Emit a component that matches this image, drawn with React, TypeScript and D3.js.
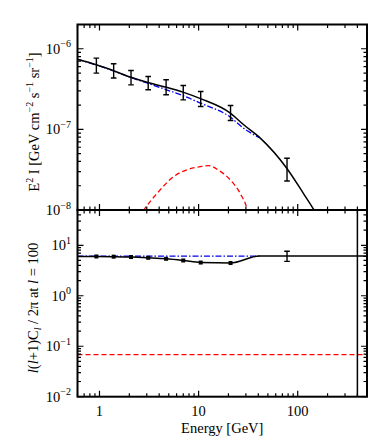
import React from 'react'
import * as d3 from 'd3'

// energies of the measured bins [GeV]
const binEnergy = [0.93, 1.39, 2.08, 3.1, 4.7, 7.0, 10.5, 21, 78]
// E^2 I with its error range
const intensity = [6.18e-7, 5.3e-7, 4.38e-7, 3.75e-7, 3.33e-7, 2.86e-7, 2.38e-7, 1.6e-7, 3.17e-8]
const intensityLo = [4.99e-7, 4.33e-7, 3.57e-7, 3.1e-7, 2.69e-7, 2.32e-7, 1.92e-7, 1.29e-7, 2.29e-8]
const intensityHi = [7.66e-7, 6.52e-7, 5.37e-7, 4.53e-7, 4.12e-7, 3.5e-7, 2.95e-7, 1.98e-7, 4.38e-8]

// total model (black)
const totalE = [0.6, 0.93, 1.39, 2.08, 3.14, 4.73, 7.06, 10.6, 20.9, 28.5, 41.9, 77.5, 114, 146, 200]
const totalI = [7.4e-7, 6.32e-7, 5.33e-7, 4.43e-7, 3.78e-7, 3.33e-7, 2.88e-7, 2.39e-7, 1.59e-7, 1.14e-7, 7.8e-8, 3.3e-8, 1.61e-8, 1.0e-8, 5e-9]
// smooth component (blue dash-dot)
const smoothE = [0.6, 0.93, 1.39, 2.08, 3.14, 4.73, 7.06, 10.6, 20.9, 28.5, 41]
const smoothI = [7.4e-7, 6.3e-7, 5.3e-7, 4.4e-7, 3.7e-7, 3.1e-7, 2.6e-7, 2.1e-7, 1.42e-7, 1.03e-7, 7.9e-8]
// bump component (red dashed)
const bumpE = [2.5, 2.8, 3.8, 5.6, 7.6, 10.4, 12.6, 16, 20.9, 26.3, 31, 33]
const bumpI = [8e-9, 1e-8, 1.6e-8, 2.6e-8, 3.15e-8, 3.45e-8, 3.55e-8, 3.1e-8, 2.36e-8, 1.6e-8, 1e-8, 7e-9]

// anisotropy l(l+1)C_l/2pi at l=100
const aniso = [6.0, 5.95, 5.85, 5.65, 5.4, 5.0, 4.55, 4.45]
const anisoLineE = [0.6, 0.93, 1.39, 2.08, 3.1, 4.7, 7.0, 10.5, 21, 41, 500]
const anisoLine = [6.0, 6.0, 5.95, 5.85, 5.65, 5.4, 5.0, 4.55, 4.45, 6.1, 6.1]
const anisoHighE = 78
const anisoHigh = [4.8, 6.05, 7.6] // lo, center, hi
const smoothAnisoE = [0.6, 41]
const smoothAniso = [6.1, 6.1]
const bumpAnisoE = [0.6, 500]
const bumpAniso = [0.068, 0.068]
const cutEnergy = 400

const topDecades = [-8, -7, -6]
const botDecades = [-2, -1, 0, 1]
const xMajors = [1, 10, 100]
const xMajorLabels = ['1', '10', '100']

const FONT = 'Liberation Serif'

export default function App() {
  const width = 390
  const height = 446
  const left = 77.5
  const right = 367
  const topY0 = 24.5
  const midY = 210
  const botY1 = 396.7

  const x = d3.scaleLog().domain([0.6, 500]).range([left, right])
  const yTop = d3.scaleLog().domain([1e-8, 2e-6]).range([midY, topY0])
  const yBot = d3.scaleLog().domain([0.01, 50]).range([botY1, midY])

  const lineTop = d3.line<[number, number]>()
    .x(d => x(d[0]))
    .y(d => yTop(d[1]))
    .curve(d3.curveMonotoneX)
  const lineBot = d3.line<[number, number]>()
    .x(d => x(d[0]))
    .y(d => yBot(d[1]))
    .curve(d3.curveMonotoneX)

  const zip = (a: number[], b: number[]) => a.map((v, i) => [v, b[i]] as [number, number])

  // major and minor ticks of a log scale
  const logTicks = (lo: number, hi: number) => {
    const out: { v: number; major: boolean }[] = []
    for (let e = Math.floor(Math.log10(lo)); e <= Math.ceil(Math.log10(hi)); e++) {
      for (let m = 1; m < 10; m++) {
        const v = m * Math.pow(10, e)
        if (v >= lo * 0.9999 && v <= hi * 1.0001) out.push({ v, major: m === 1 })
      }
    }
    return out
  }
  const xTicks = logTicks(0.6, 500)
  const yTopTicks = logTicks(1e-8, 2e-6)
  const yBotTicks = logTicks(0.01, 50)

  const major = 6
  const minor = 3.5

  const tickPaths: string[] = []
  xTicks.forEach(t => {
    const px = x(t.v)
    const l = t.major ? major : minor
    tickPaths.push(`M${px},${topY0}v${l}`)
    tickPaths.push(`M${px},${midY}v${-l}`)
    tickPaths.push(`M${px},${midY}v${l}`)
    tickPaths.push(`M${px},${botY1}v${-l}`)
  })
  yTopTicks.forEach(t => {
    const py = yTop(t.v)
    const l = t.major ? major : minor
    tickPaths.push(`M${left},${py}h${l}`)
    tickPaths.push(`M${right},${py}h${-l}`)
  })
  yBotTicks.forEach(t => {
    const py = yBot(t.v)
    const l = t.major ? major : minor
    tickPaths.push(`M${left},${py}h${l}`)
    tickPaths.push(`M${right},${py}h${-l}`)
  })

  const cap = 2.8
  const fs = 14.5
  const sup = 10

  return (
    <svg width={width} height={height} style={{ position: 'absolute', left: 0, top: 0, background: '#fff' }}>
      <defs>
        <clipPath id="clipTop"><rect x={left} y={topY0} width={right - left} height={midY - topY0} /></clipPath>
        <clipPath id="clipBot"><rect x={left} y={midY} width={right - left} height={botY1 - midY} /></clipPath>
      </defs>

      {/* top panel curves */}
      <g clipPath="url(#clipTop)" fill="none">
        <path d={lineTop(zip(bumpE, bumpI)) || ''} stroke="#ff0000" strokeWidth={1.3} strokeDasharray="5,3" />
        <path d={lineTop(zip(smoothE, smoothI)) || ''} stroke="#0000ee" strokeWidth={1.3} strokeDasharray="6,2,1.5,2" />
        <path d={lineTop(zip(totalE, totalI)) || ''} stroke="#000" strokeWidth={1.5} />
        {binEnergy.map((e, i) => (
          <g key={i} stroke="#000" strokeWidth={1.4}>
            <line x1={x(e)} x2={x(e)} y1={yTop(intensityLo[i])} y2={yTop(intensityHi[i])} />
            <line x1={x(e) - cap} x2={x(e) + cap} y1={yTop(intensityLo[i])} y2={yTop(intensityLo[i])} />
            <line x1={x(e) - cap} x2={x(e) + cap} y1={yTop(intensityHi[i])} y2={yTop(intensityHi[i])} />
          </g>
        ))}
      </g>

      {/* bottom panel curves */}
      <g clipPath="url(#clipBot)" fill="none">
        <path d={lineBot(zip(bumpAnisoE, bumpAniso)) || ''} stroke="#ff0000" strokeWidth={1.3} strokeDasharray="5,3" />
        <path d={lineBot(zip(smoothAnisoE, smoothAniso)) || ''} stroke="#0000ee" strokeWidth={1.3} strokeDasharray="6,2,1.5,2" />
        <path d={lineBot(zip(anisoLineE, anisoLine)) || ''} stroke="#000" strokeWidth={1.5} />
        {aniso.map((v, i) => (
          <rect key={i} x={x(binEnergy[i]) - 2} y={yBot(v) - 2} width={4} height={4} fill="#000" />
        ))}
        <g stroke="#000" strokeWidth={1.4}>
          <line x1={x(anisoHighE)} x2={x(anisoHighE)} y1={yBot(anisoHigh[0])} y2={yBot(anisoHigh[2])} />
          <line x1={x(anisoHighE) - cap} x2={x(anisoHighE) + cap} y1={yBot(anisoHigh[0])} y2={yBot(anisoHigh[0])} />
          <line x1={x(anisoHighE) - cap} x2={x(anisoHighE) + cap} y1={yBot(anisoHigh[2])} y2={yBot(anisoHigh[2])} />
        </g>
        <line x1={x(cutEnergy)} x2={x(cutEnergy)} y1={midY} y2={botY1} stroke="#000" strokeWidth={1.5} />
      </g>

      {/* ticks and frames */}
      <path d={tickPaths.join('')} stroke="#000" strokeWidth={1.2} fill="none" />
      <rect x={left} y={topY0} width={right - left} height={midY - topY0} fill="none" stroke="#000" strokeWidth={2} />
      <rect x={left} y={midY} width={right - left} height={botY1 - midY} fill="none" stroke="#000" strokeWidth={2} />

      {/* y tick labels */}
      {topDecades.map(d => (
        <text key={'t' + d} fontFamily={FONT} x={71} y={yTop(Math.pow(10, d)) + 5} fontSize={fs} textAnchor="end">
          10<tspan fontSize={sup} dy={-6.5}>{'\u2212' + Math.abs(d)}</tspan>
        </text>
      ))}
      {botDecades.map(d => (
        <text key={'b' + d} fontFamily={FONT} x={71} y={yBot(Math.pow(10, d)) + 5} fontSize={fs} textAnchor="end">
          10<tspan fontSize={sup} dy={-6.5}>{d < 0 ? '\u2212' + Math.abs(d) : String(d)}</tspan>
        </text>
      ))}

      {/* x tick labels */}
      {xMajors.map((v, i) => (
        <text key={v} fontFamily={FONT} x={x(v)} y={415.5} fontSize={fs} textAnchor="middle">{xMajorLabels[i]}</text>
      ))}
      <text fontFamily={FONT} x={(left + right) / 2} y={432.5} fontSize={fs} textAnchor="middle">Energy [GeV]</text>

      {/* y axis titles */}
      <text fontFamily={FONT} transform={`translate(39,122) rotate(-90)`} fontSize={fs} textAnchor="middle">
        E<tspan fontSize={sup} dy={-6}>2</tspan><tspan dy={6}> I [GeV cm</tspan>
        <tspan fontSize={sup} dy={-6}>{'\u22122'}</tspan><tspan dy={6}> s</tspan>
        <tspan fontSize={sup} dy={-6}>{'\u22121'}</tspan><tspan dy={6}> sr</tspan>
        <tspan fontSize={sup} dy={-6}>{'\u22121'}</tspan><tspan dy={6}>]</tspan>
      </text>
      <text fontFamily={FONT} transform={`translate(38,308) rotate(-90)`} fontSize={fs} textAnchor="middle">
        <tspan fontStyle="italic">l</tspan>(<tspan fontStyle="italic">l</tspan>+1)C
        <tspan fontSize={sup} dy={3} fontStyle="italic">l</tspan>
        <tspan dy={-3}>{' / 2\u03c0  at '}</tspan>
        <tspan fontStyle="italic">l</tspan>{' = 100'}
      </text>
    </svg>
  )
}
